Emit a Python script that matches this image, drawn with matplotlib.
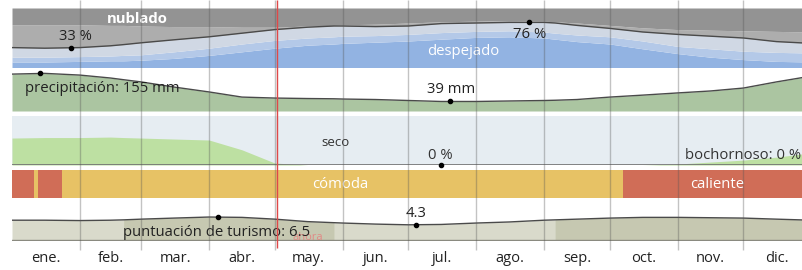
import matplotlib
matplotlib.use("Agg")
import matplotlib.pyplot as plt

plt.rcParams['font.family'] = ['Open Sans', 'DejaVu Sans']

# months and their first day (day of year, 0 based)
months = ["ene.", "feb.", "mar.", "abr.", "may.", "jun.",
          "jul.", "ago.", "sep.", "oct.", "nov.", "dic."]
month_starts = [0, 31, 59, 90, 120, 151, 181, 212, 243, 273, 304, 334, 365]
today = 121

# sample days for all the yearly curves
days = [0, 15, 31, 45, 51, 59, 74, 90, 105, 120, 135, 147, 151, 166, 181,
        196, 212, 227, 243, 248, 258, 273, 288, 304, 319, 334, 349, 365]

# cloud cover, cumulative % from the bottom
cloud_clear = [10, 10, 11, 12, 12, 13, 16, 21, 27, 33, 38, 40, 41, 43, 45,
               48, 51, 52, 50, 48, 44, 40, 32, 24, 18, 14, 11, 10]
cloud_mostly_clear = [18, 18, 19, 20, 21, 22, 27, 33, 40, 46, 50, 52, 53, 54, 56,
                      59, 61, 62, 60, 58, 55, 52, 45, 36, 32, 28, 26, 25]
cloud_partly = [34, 33, 34, 37, 39, 42, 47, 52, 58, 64, 68, 70, 70, 69, 70,
                74, 75, 76, 76, 75, 71, 66, 60, 56, 53, 50, 44, 41]
cloud_mostly_cloudy = [72, 72, 72, 71, 71, 70, 69, 69, 68, 68, 70, 71, 72, 73, 75,
                       77, 78, 79, 78, 77, 75, 71, 67, 64, 63, 62, 61, 60]

# precipitation, mm
precip_mm = [151, 154, 147, 135, 128, 119, 98, 78, 57, 53, 51, 50, 49, 47, 43,
             39, 39, 41, 43, 44, 47, 57, 65, 74, 82, 94, 119, 143]

# muggy days, %
muggy_pct = [55, 56, 56, 57, 56, 55, 53, 51, 31, 4, 0, 0, 0, 0, 0,
             0, 0, 0, 0, 0, 0, 0, 0, 2, 6, 10, 16, 25]

# tourism score
tourism = [5.6, 5.6, 5.5, 5.6, 5.7, 5.9, 6.2, 6.5, 6.4, 5.9, 5.2, 4.9, 4.8, 4.5, 4.3,
           4.4, 4.8, 5.1, 5.6, 5.7, 5.9, 6.2, 6.4, 6.4, 6.3, 6.2, 5.9, 5.6]
tourism_dark = [(51, 147), (248, 365)]

# temperature comfort bands
comfort_start = [0, 10, 12, 23, 279]
comfort_end = [10, 12, 23, 279, 365]
comfort_cat = ["caliente", "cómoda", "caliente", "cómoda", "caliente"]
comfort_colors = {"caliente": "#d06d57", "cómoda": "#e7c265"}

# figure, panels placed by pixel rows
W_PX, H_PX = 802, 270
fig = plt.figure(figsize=(8.02, 2.70), dpi=100)
LEFT = 12 / W_PX
WIDTH = 365 * 2.19 / W_PX
FS = 10.7


def panel(top, bottom):
    ax = fig.add_axes([LEFT, 1 - bottom / H_PX, WIDTH, (bottom - top) / H_PX])
    ax.set_xlim(0, 365)
    ax.set_xticks([])
    ax.set_yticks([])
    for s in ax.spines.values():
        s.set_visible(False)
    return ax


txt = dict(fontsize=FS, ha="center", va="center")

# clouds
ax = panel(8, 68)
ax.set_ylim(0, 100)
ax.fill_between(days, 0, cloud_clear, color="#92b3e2", lw=0)
ax.fill_between(days, cloud_clear, cloud_mostly_clear, color="#b4c9e8", lw=0)
ax.fill_between(days, cloud_mostly_clear, cloud_partly, color="#d0d8e4", lw=0)
ax.fill_between(days, cloud_partly, cloud_mostly_cloudy, color="#adadad", lw=0)
ax.fill_between(days, cloud_mostly_cloudy, 100, color="#939393", lw=0)
ax.plot(days, cloud_partly, color="#4a4a4a", lw=1)
ax.plot([27, 236], [33, 76], "o", color="black", ms=3, ls="none")
ax.text(57, 82, "nublado", color="white", fontweight="bold", **txt)
ax.text(29, 52, "33 %", color="#222222", **txt)
ax.text(236.5, 55, "76 %", color="#222222", **txt)
ax.text(206, 27, "despejado", color="white", **txt)

# precipitation
ax = panel(68, 111)
ax.set_ylim(0, 176)
ax.fill_between(days, 0, precip_mm, color="#abc5a1", lw=0)
ax.plot(days, precip_mm, color="#4a4a4a", lw=1)
ax.plot([13, 200], [155, 39], "o", color="black", ms=3, ls="none")
ax.text(6, 94, "precipitación: 155 mm", color="#222222", fontsize=FS, ha="left", va="center")
ax.text(200.5, 90, "39 mm", color="#222222", **txt)

# humidity
ax = panel(116, 165)
ax.set_facecolor("#e6edf2")
ax.set_ylim(0, 100)
ax.fill_between(days, 0, muggy_pct, color="#bde0a2", lw=0)
ax.axhline(0, color="#707070", lw=1.2)
ax.plot([196], [0], "o", color="black", ms=3, clip_on=False)
ax.text(147.5, 45, "seco", color="#333333", fontsize=9.5, ha="center", va="center")
ax.text(195.5, 20, "0 %", color="#333333", **txt)
ax.text(360.3, 20, "bochornoso: 0 %", color="#333333", fontsize=FS, ha="right", va="center")

# temperature comfort
ax = panel(170, 198)
ax.set_ylim(0, 1)
for s, e, c in zip(comfort_start, comfort_end, comfort_cat):
    ax.barh(0.5, e - s, left=s, height=1, color=comfort_colors[c], lw=0)
ax.text(150, 0.5, "cómoda", color="white", **txt)
ax.text(322, 0.5, "caliente", color="white", **txt)

# tourism score
ax = panel(205, 241)
ax.set_ylim(-0.28, 9.9)
ax.fill_between(days, 0, tourism, color="#d9dacb", lw=0)
for s, e in tourism_dark:
    ax.fill_between(days, 0, tourism, where=[s <= d <= e for d in days],
                    color="#c6c8b1", lw=0)
ax.axhline(0, color="#8a8a80", lw=1)
ax.plot(days, tourism, color="#4a4a4a", lw=1)
ax.plot([94, 184.5], [6.5, 4.3], "o", color="black", ms=3, ls="none")
ax.text(135, 0.6, "ahora", color="#e87a7a", fontsize=8, alpha=0.8,
        ha="center", va="center")
ax.text(93.6, 2.1, "puntuación de turismo: 6.5", color="#222222", **txt)
ax.text(184.5, 7.6, "4.3", color="#222222", **txt)

# overlay: month grid, today line and month names (y in pixel rows)
ov = fig.add_axes([LEFT, 0, WIDTH, 1])
ov.set_xlim(0, 365)
ov.set_ylim(H_PX, 0)
ov.axis("off")
ov.set_zorder(10)
ov.patch.set_visible(False)
ov.vlines(month_starts[1:-1], 0, 250, color="#555555", alpha=0.35, lw=1)
ov.vlines([today], 0, 248, color="#e04848", lw=1)
for i, m in enumerate(months):
    mid = (month_starts[i] + month_starts[i + 1]) / 2
    ov.text(mid, 258, m, fontsize=10.5, color="#222222", ha="center", va="center")

fig.savefig("out.png", dpi=100)
